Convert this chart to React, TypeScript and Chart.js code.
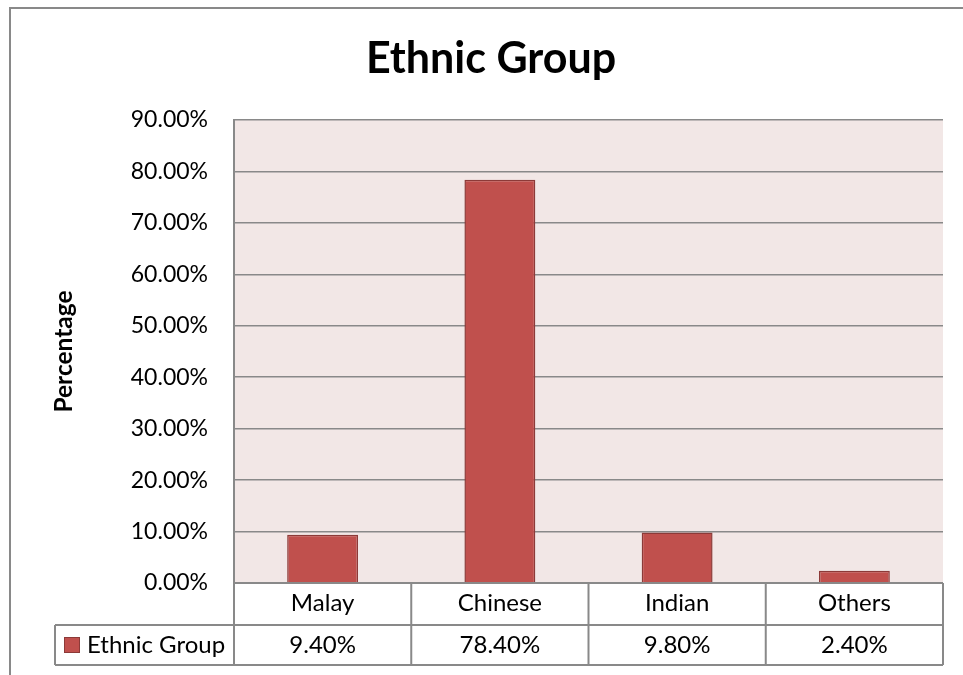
import React, { useEffect, useRef } from "react";
import { Chart, registerables } from "chart.js";

Chart.register(...registerables);

const chartTitle = "Ethnic Group";
const yAxisTitle = "Percentage";
const seriesName = "Ethnic Group";
const categories = ["Malay", "Chinese", "Indian", "Others"];
const values = [9.4, 78.4, 9.8, 2.4];
const yMin = 0;
const yMax = 90;
const yStep = 10;

const FONT = "Lato, 'Open Sans', sans-serif";
const GRID = "#898989";
const BAR_FILL = "#C0504D";
const BAR_EDGE = "#8C3A38";
const PLOT_BG = "#F2E7E6";

const fmt = (v: number) => v.toFixed(2) + "%";

const tablePlugin = {
  id: "excelDecor",
  beforeDraw(chart: any) {
    const { ctx, chartArea } = chart;
    ctx.save();
    ctx.fillStyle = "#ffffff";
    ctx.fillRect(0, 0, chart.width, chart.height);
    ctx.fillStyle = PLOT_BG;
    ctx.fillRect(chartArea.left, chartArea.top, chartArea.right - chartArea.left, chartArea.bottom - chartArea.top);
    ctx.restore();
  },
  afterDraw(chart: any) {
    const { ctx, chartArea } = chart;
    const xs = chart.scales.x;
    const left = chartArea.left;
    const right = chartArea.right;
    const n = categories.length;
    const catW = (right - left) / n;
    const row1Top = chartArea.bottom;
    const row1Bot = row1Top + 42;
    const row2Bot = row1Bot + 40;
    const legendLeft = 55;

    ctx.save();
    // title
    ctx.fillStyle = "#000";
    ctx.font = `bold 43px ${FONT}`;
    ctx.textAlign = "center";
    ctx.textBaseline = "alphabetic";
    ctx.fillText(chartTitle, 491, 73);

    // y axis title
    ctx.save();
    ctx.translate(72, (chartArea.top + chartArea.bottom) / 2);
    ctx.rotate(-Math.PI / 2);
    ctx.font = `bold 24.5px ${FONT}`;
    ctx.textAlign = "center";
    ctx.fillText(yAxisTitle, 0, 0);
    ctx.restore();

    // data table lines
    ctx.strokeStyle = GRID;
    ctx.lineWidth = 2;
    ctx.beginPath();
    ctx.moveTo(left, row1Top);
    ctx.lineTo(right, row1Top);
    ctx.moveTo(legendLeft, row1Bot);
    ctx.lineTo(right, row1Bot);
    ctx.moveTo(legendLeft, row2Bot);
    ctx.lineTo(right, row2Bot);
    ctx.moveTo(legendLeft, row1Bot);
    ctx.lineTo(legendLeft, row2Bot);
    for (let i = 0; i <= n; i++) {
      const x = left + i * catW;
      ctx.moveTo(x, row1Top);
      ctx.lineTo(x, row2Bot);
    }
    ctx.stroke();

    // table texts
    ctx.fillStyle = "#000";
    ctx.font = `24px ${FONT}`;
    ctx.textAlign = "center";
    ctx.textBaseline = "alphabetic";
    categories.forEach((c, i) => {
      const cx = xs.getPixelForValue(i);
      ctx.fillText(c, cx, row1Top + 28);
      ctx.fillText(fmt(values[i]), cx, row1Bot + 28);
    });

    // legend key
    ctx.fillStyle = BAR_FILL;
    ctx.fillRect(64, row1Bot + 12, 16, 16);
    ctx.strokeStyle = BAR_EDGE;
    ctx.lineWidth = 1;
    ctx.strokeRect(64.5, row1Bot + 12.5, 15, 15);
    ctx.fillStyle = "#000";
    ctx.textAlign = "left";
    ctx.fillText(seriesName, 87, row1Bot + 28);

    // outer frame
    ctx.strokeStyle = GRID;
    ctx.lineWidth = 2;
    ctx.beginPath();
    ctx.moveTo(10, chart.height);
    ctx.lineTo(10, 8);
    ctx.lineTo(chart.width, 8);
    ctx.stroke();
    ctx.restore();
  },
};

export default function App() {
  const ref = useRef<HTMLCanvasElement | null>(null);
  useEffect(() => {
    if (!ref.current) return;
    const chart = new Chart(ref.current, {
      type: "bar",
      data: {
        labels: categories,
        datasets: [
          {
            label: seriesName,
            data: values,
            backgroundColor: BAR_FILL,
            borderColor: BAR_EDGE,
            borderWidth: 1.5,
            categoryPercentage: 0.4,
            barPercentage: 1,
          },
        ],
      },
      options: {
        animation: false,
        responsive: false,
        devicePixelRatio: 1,
        layout: { padding: { top: 120, right: 20, bottom: 92, left: 0 } },
        plugins: {
          legend: { display: false },
          title: { display: false },
          tooltip: { enabled: false },
        },
        scales: {
          x: {
            display: true,
            ticks: { display: false },
            grid: { display: false },
            border: { display: false },
            afterFit: (s: any) => {
              s.height = 0;
            },
          },
          y: {
            min: yMin,
            max: yMax,
            ticks: {
              stepSize: yStep,
              callback: (v: any) => fmt(Number(v)),
              font: { family: FONT, size: 23 },
              color: "#000",
              padding: 26,
            },
            grid: { color: GRID, lineWidth: 1.5, drawTicks: false },
            border: { display: true, color: GRID, width: 2 },
            afterFit: (s: any) => {
              s.width = 234;
            },
          },
        },
      },
      plugins: [tablePlugin],
    });
    return () => chart.destroy();
  }, []);
  return (
    <div style={{ position: "absolute", left: 0, top: 0, width: 963, height: 675 }}>
      <canvas ref={ref} width={963} height={675} style={{ display: "block" }} />
    </div>
  );
}
